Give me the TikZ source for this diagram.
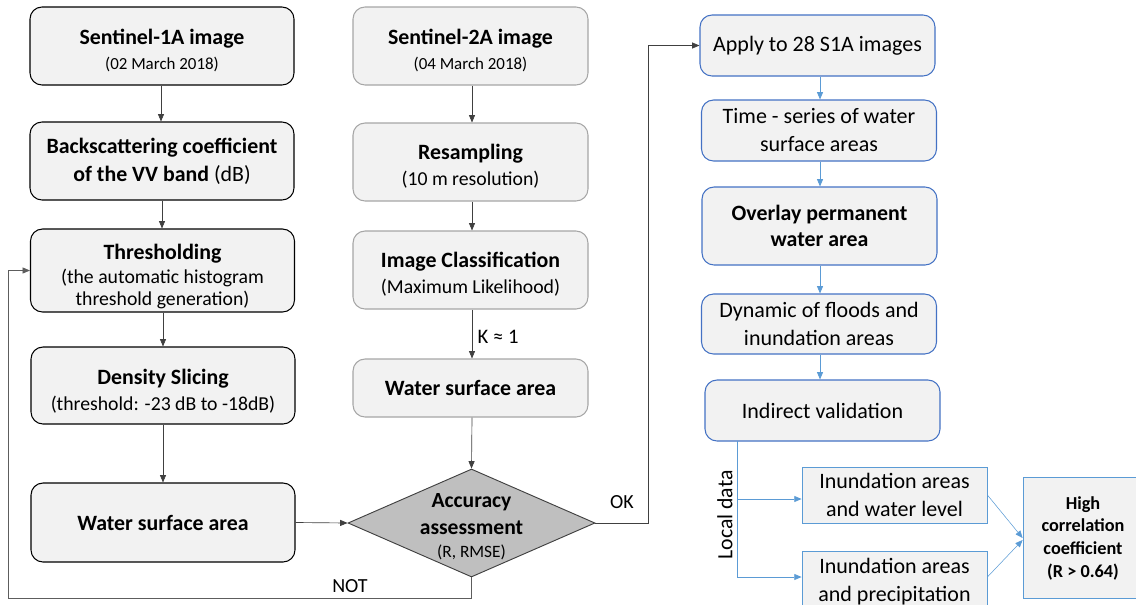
\documentclass[tikz,border=0pt]{standalone}
\usepackage{fontspec}
\setmainfont{Carlito}
\usetikzlibrary{shapes.geometric,arrows.meta}
\definecolor{boxfill}{HTML}{F2F2F2}
\definecolor{midline}{HTML}{A6A6A6}
\definecolor{blueline}{HTML}{4472C4}
\definecolor{lblue}{HTML}{5B9BD5}
\definecolor{dgray}{HTML}{404040}
\definecolor{diafill}{HTML}{BFBFBF}
\tikzset{
  base/.style={fill=boxfill, align=center, inner sep=2pt, line width=0.8pt, font=\fontsize{16.4}{19.5}\selectfont},
  lbox/.style={base, draw=black, rounded corners=9pt, minimum width=198pt},
  mbox/.style={base, draw=midline, rounded corners=9pt, minimum width=176.25pt},
  rbox/.style={base, draw=blueline, rounded corners=9pt, minimum width=176.25pt, font=\fontsize{16.5}{21}\selectfont},
  sbox/.style={base, draw=lblue, minimum width=138.75pt, font=\fontsize{16.5}{21}\selectfont, line width=0.6pt},
  ttl/.style={font=\fontsize{16.4}{20}\selectfont\bfseries},
  conn/.style={draw=dgray, line width=0.5pt, -{Triangle[length=5.5pt,width=4.5pt]}},
  bconn/.style={draw=lblue, line width=0.6pt, -{Triangle[length=5.5pt,width=4.5pt]}},
  lbl/.style={font=\fontsize{15}{18}\selectfont, inner sep=0pt},
}
\newcommand{\sdate}[1]{{\fontsize{12.7}{15}\selectfont #1}}
\newcommand{\ssub}[1]{{\fontsize{14.8}{17}\selectfont #1}}
\newcommand{\up}[1]{\rule{0pt}{#1}}
\begin{document}
\begin{tikzpicture}[x=0.75pt,y=-0.75pt]
\useasboundingbox (0,0) rectangle (1136,604);
% left column
\node[lbox, minimum height=58.5pt] (s1) at (162,46) {\up{18.3pt}\textbf{Sentinel-1A image}\\[-1pt]\sdate{(02 March 2018)}};
\node[lbox, minimum height=58.5pt, font=\fontsize{16.4}{21}\selectfont] (bs) at (162,161) {\textbf{Backscattering coefficient}\\\textbf{of the VV band} (dB)};
\node[lbox, minimum height=62.25pt] (th) at (162.5,270.5) {\up{20pt}\textbf{Thresholding}\\[-1pt]\ssub{(the automatic histogram}\\[-3.5pt]\ssub{threshold generation)}};
\node[lbox, minimum height=57.75pt] (ds) at (163,385.5) {\up{20pt}\textbf{Density Slicing}\\\ssub{(threshold: -23 dB to -18dB)}};
\node[lbox, minimum height=59.25pt, ttl] (wl) at (163,522.5) {Water surface area};
% middle column
\node[mbox, minimum height=58.5pt] (s2) at (470.5,46) {\up{18.3pt}\textbf{Sentinel-2A image}\\[-1pt]\sdate{(04 March 2018)}};
\node[mbox, minimum height=58.5pt] (rs) at (470.5,162) {\up{18.3pt}\textbf{Resampling}\\\ssub{(10 m resolution)}};
\node[mbox, minimum height=58.5pt] (ic) at (470.5,270) {\up{18.3pt}\textbf{Image Classification}\\\ssub{(Maximum Likelihood)}};
\node[mbox, minimum height=43.5pt, ttl] (wm) at (470.5,388) {Water surface area};
% diamond
\node[diamond, draw=dgray, fill=diafill, line width=0.7pt, minimum width=185.25pt, minimum height=81pt, inner sep=0pt] (acc) at (471.5,523) {};
\node[align=center, inner sep=0pt, font=\fontsize{16.2}{20}\selectfont] (acct) at (471.5,527) {\textbf{Accuracy}\\\textbf{assessment}\\[-2.5pt]{\fontsize{13}{15}\selectfont (R, RMSE)}};
% right column
\node[rbox, minimum height=45.75pt] (ap) at (817.5,45.5) {Apply to 28 S1A images};
\node[rbox, minimum height=45.75pt] (ts) at (819,130.5) {Time - series of water\\surface areas};
\node[rbox, minimum height=58.5pt, ttl] (ov) at (819.5,226) {Overlay permanent\\water area};
\node[rbox, minimum height=45pt] (dy) at (819,324) {Dynamic of floods and\\inundation areas};
\node[rbox, minimum height=45.75pt] (iv) at (822.5,410.5) {Indirect validation};
\node[sbox, minimum height=42pt] (b1) at (894.5,495) {Inundation areas\\and water level};
\node[sbox, minimum height=45.75pt] (b2) at (894.5,581.5) {Inundation areas\\and precipitation};
\node[sbox, minimum width=91.5pt, minimum height=90.75pt] (hc) at (1084,537.5) {};
\node[align=center, inner sep=0pt, font=\fontsize{13.7}{17}\selectfont\bfseries] (hct) at (1083,538) {High\\correlation\\coefficient\\(R > 0.64)};
% connectors left
\draw[conn] (s1.south -| 161,0) -- (bs.north -| 161,0);
\draw[conn] (bs.south -| 162,0) -- (th.north -| 162,0);
\draw[conn] (th.south -| 163,0) -- (ds.north -| 163,0);
\draw[conn] (ds.south -| 163,0) -- (wl.north -| 163,0);
\draw[conn] (wl.east) -- (acc.west);
% middle
\draw[conn] (s2.south -| 472,0) -- (rs.north -| 472,0);
\draw[conn] (rs.south -| 472,0) -- (ic.north -| 472,0);
\draw[conn] (ic.south -| 472,0) -- (wm.north -| 472,0) node[pos=0.56, right=4pt, lbl, font=\fontsize{15.5}{18}\selectfont] (k) {K ≈ 1};
\draw[conn] (wm.south -| 472,0) -- (acc.north);
% loops
\coordinate (nl) at (8,598);
\draw[conn, draw=dgray!85] (acc.south) -- (acc.south |- nl) -- (nl) -- (nl |- th.west) -- (th.west);
\node[lbl] (not) at (350,586) {NOT};
\coordinate (okc) at (648,523);
\draw[conn] (acc.east) -- (okc) -- (okc |- ap.west) -- (ap.west);
\node[lbl] (ok) at (622,502) {OK};
% right connectors
\draw[bconn] (ap.south -| 820,0) -- (ts.north -| 820,0);
\draw[bconn] (ts.south -| 820,0) -- (ov.north -| 820,0);
\draw[bconn] (ov.south -| 820,0) -- (dy.north -| 820,0);
\draw[bconn] (dy.south -| 820,0) -- (iv.north -| 820,0);
\coordinate (ldt) at (737,441);
\coordinate (ld1) at (737,499);
\coordinate (ld2) at (737,577);
\draw[draw=lblue, line width=0.6pt] (ldt) -- (ld2);
\draw[bconn] (ld1) -- (ld1 -| b1.west);
\draw[bconn] (ld2) -- (ld2 -| b2.west);
\node[lbl, rotate=90, font=\fontsize{16.3}{18}\selectfont] (ldl) at (725,515) {Local data};
\draw[bconn, line width=0.4pt] (b1.east |- 0,495) -- (hc.west |- 0,538);
\draw[bconn, line width=0.4pt] (b2.east |- 0,577) -- (hc.west |- 0,540);
\end{tikzpicture}
\end{document}
